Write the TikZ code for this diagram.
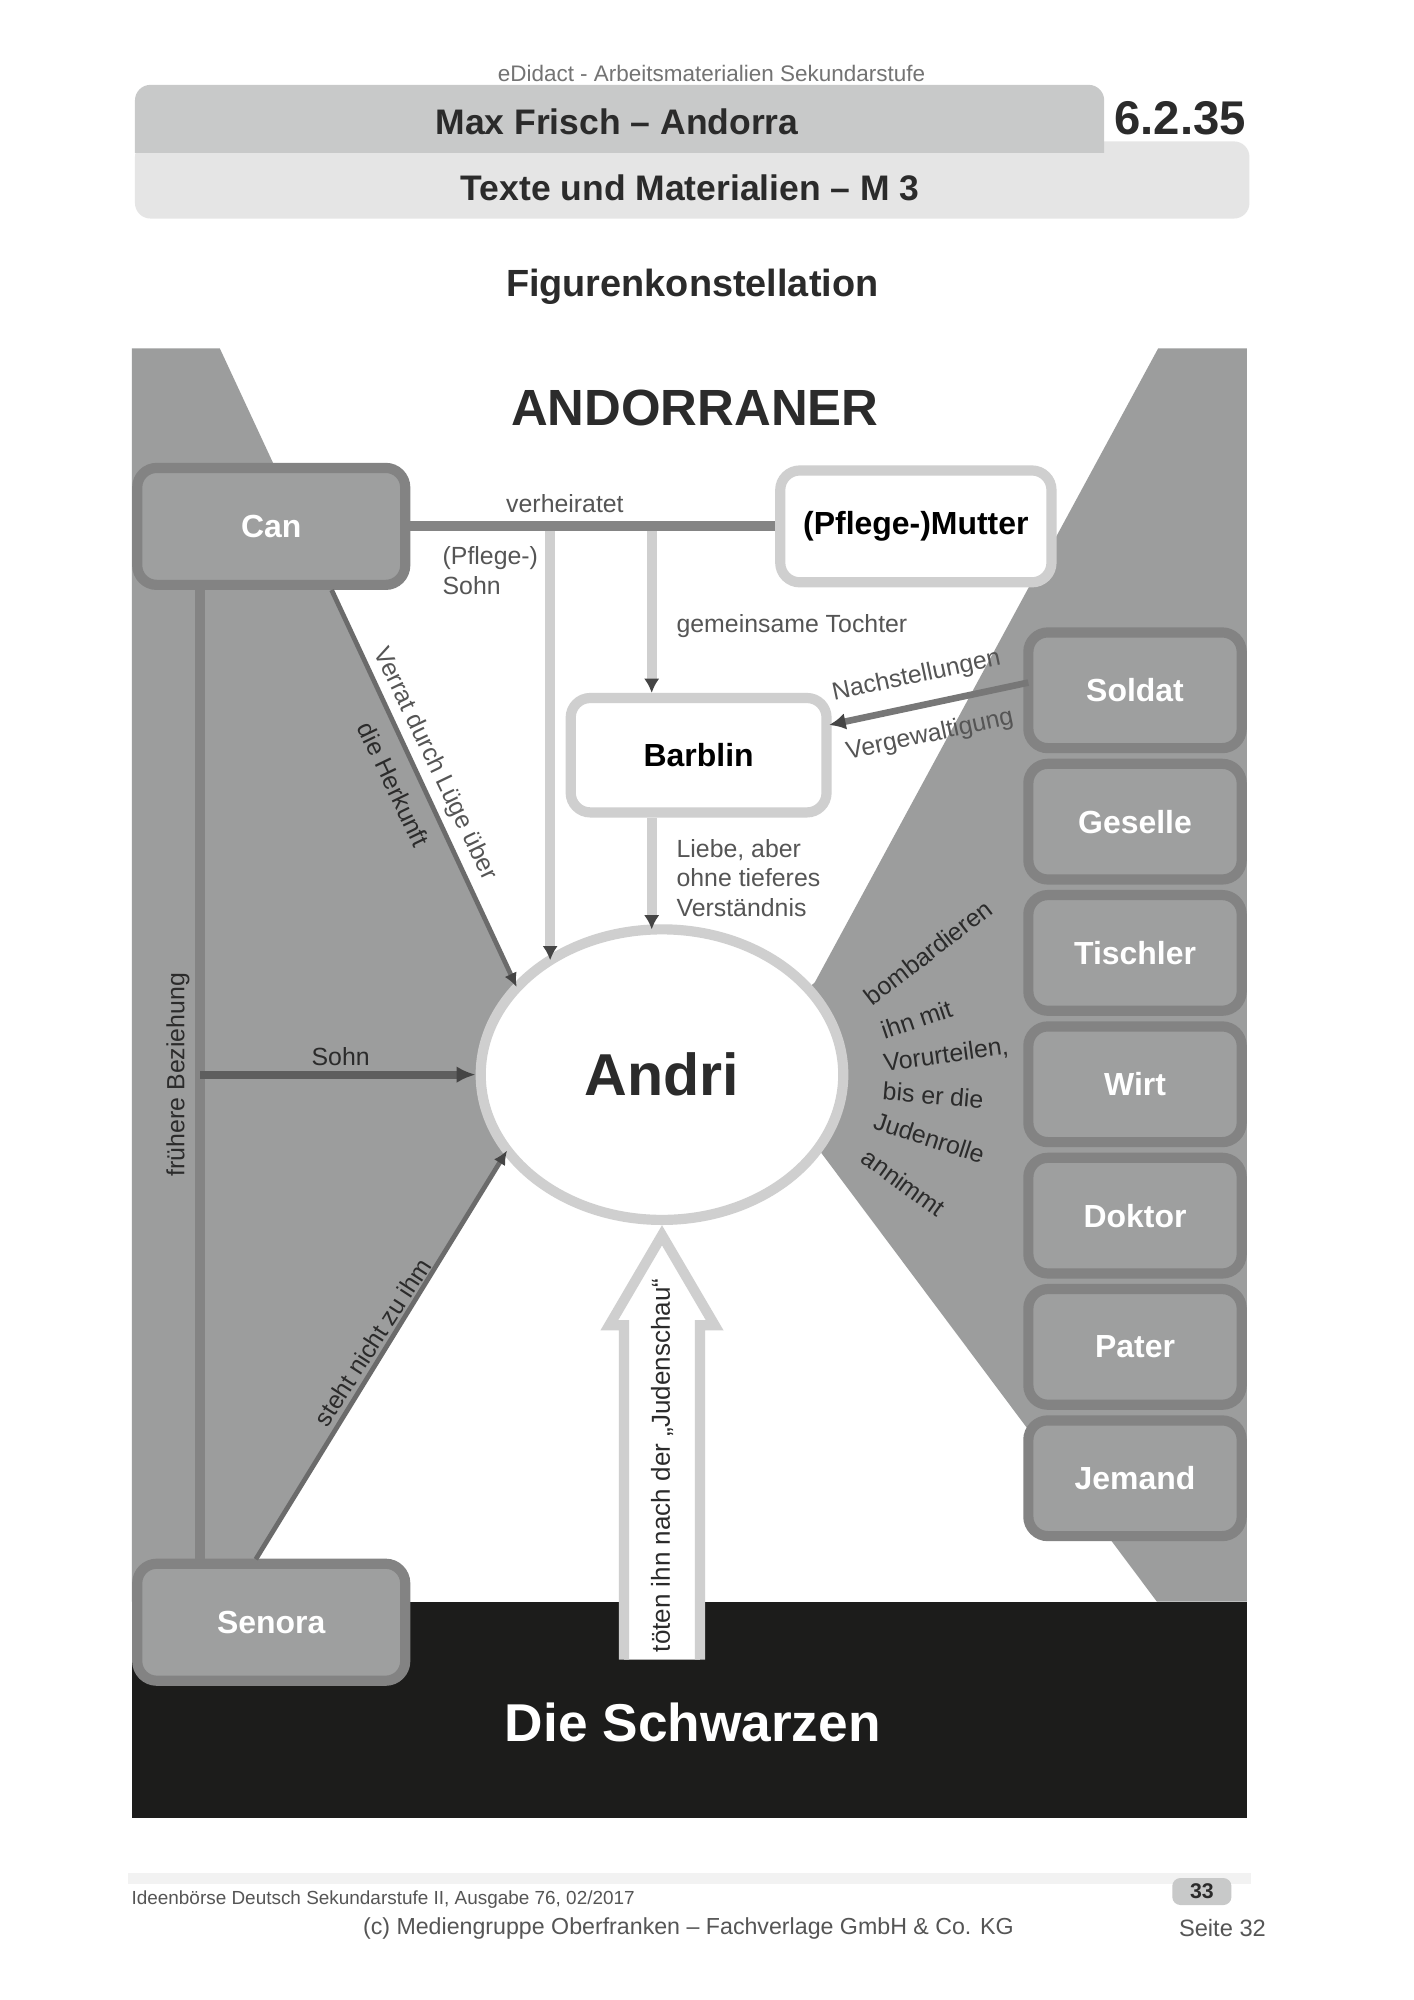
\documentclass[tikz,border=0pt]{standalone}
\usepackage{fontspec}
\setmainfont{Liberation Sans}
\setsansfont{Liberation Sans}
\usetikzlibrary{arrows.meta,shapes.geometric}
\definecolor{panelgray}{HTML}{9C9D9D}
\definecolor{boxfill}{HTML}{9E9F9F}
\definecolor{boxline}{HTML}{838383}
\definecolor{lightline}{HTML}{CFCFCF}
\definecolor{darkline}{HTML}{848484}
\definecolor{diagline}{HTML}{6B6B6B}
\definecolor{sohnline}{HTML}{5E5E5E}
\definecolor{barblack}{HTML}{1C1C1B}
\definecolor{labelgray}{HTML}{555555}
\definecolor{tipc}{HTML}{454545}
\definecolor{hdrdark}{HTML}{C8C9C9}
\definecolor{hdrlight}{HTML}{E5E5E5}
\definecolor{txtdark}{HTML}{2B2B2B}
\definecolor{footbar}{HTML}{F2F2F2}
\definecolor{footgray}{HTML}{555555}
\begin{document}
\begin{tikzpicture}[x=0.019091cm,y=-0.019091cm,
  gbox/.style={draw=boxline, fill=boxfill, line width=4.3pt, rounded corners=0.29cm,
    text=white, font=\fontsize{13.5}{16}\selectfont\bfseries, inner sep=0pt},
  canbox/.style={gbox, minimum width=3.98cm, minimum height=1.737cm},
  rbox/.style={gbox, minimum width=3.169cm, minimum height=1.718cm},
  wbox/.style={draw=lightline, fill=white, line width=4.3pt, rounded corners=0.29cm,
    text=black, font=\fontsize{13.5}{16}\selectfont\bfseries, inner sep=0pt},
  lbl/.style={font=\fontsize{10.5}{12.5}\selectfont, text=labelgray, inner sep=0pt},
  lbldark/.style={font=\fontsize{10.5}{12.5}\selectfont, text=txtdark, inner sep=0pt},
  lightarrow/.style={draw=lightline, line width=4.2pt, -{Latex[length=6pt,width=6.5pt,color=tipc]}},
  diagarrow/.style={draw=diagline, line width=2pt, -{Latex[length=6pt,width=5.5pt,color=tipc]}},
  sohnarrow/.style={draw=sohnline, line width=3.4pt, -{Latex[length=8pt,width=7pt,color=tipc]}},
  soldarrow/.style={draw=darkline!90!black, line width=2.8pt, -{Latex[length=7pt,width=7pt,color=tipc]}},
  marry/.style={draw=darkline, line width=4.2pt},
  vline/.style={draw=darkline, line width=4.6pt},
  fan/.style={lbldark}
]
\useasboundingbox (0,0) rectangle (1100,1555.9);
\fill[white] (0,0) rectangle (1100,1555.9);

% ---------- header ----------
\node[font=\fontsize{9.5}{11}\selectfont, text=black!55, inner sep=0pt] (hdrtop) at (553.5,57) {eDidact - Arbeitsmaterialien Sekundarstufe};
\fill[hdrlight, rounded corners=0.23cm] (105,110) rectangle (972,170);
\fill[hdrdark] (105,119) {[rounded corners=0.23cm] -- (105,66) -- (859,66)} -- (859,119) -- cycle;
\node[font=\fontsize{15}{18}\selectfont\bfseries, text=txtdark, inner sep=0pt] (hdrone) at (480,95) {Max Frisch – Andorra};
\node[font=\fontsize{15}{18}\selectfont\bfseries, text=txtdark, inner sep=0pt] (hdrtwo) at (537,146) {Texte und Materialien – M 3};
\node[font=\fontsize{20}{24}\selectfont\bfseries, text=txtdark, inner sep=0pt] (hdrnum) at (918,92) {6.2.35};
\node[font=\fontsize{16}{19}\selectfont\bfseries, text=txtdark, inner sep=0pt] (title) at (538.5,223) {Figurenkonstellation};

% ---------- panel backgrounds ----------
\fill[panelgray] (102.5,271) -- (171,271) -- (402,768) -- (470,836) -- (394.5,895) -- (199,1213) -- (199,1246) -- (102.5,1246) -- cycle;
\fill[panelgray] (901,271) -- (970,271) -- (970,1246) -- (900,1246) -- (639,897) -- (560,836) -- (634,764) -- cycle;
\fill[barblack] (102.5,1246) rectangle (970,1414);

\node[font=\fontsize{21.5}{26}\selectfont\bfseries, text=txtdark, inner sep=0pt] (andorraner) at (540.6,317) {ANDORRANER};
\node[font=\fontsize{22.5}{27}\selectfont\bfseries, text=white, inner sep=0pt] (schwarzen) at (539,1340) {Die Schwarzen};

% ---------- nodes ----------
\node[canbox] (can) at (211,409.5) {Can};
\node[canbox] (senora) at (211,1262) {Senora};
\node[wbox, minimum width=4.028cm, minimum height=1.661cm] (mutter) at (712.5,409.5) {(Pflege-)Mutter};
\node[wbox, minimum width=3.799cm, minimum height=1.699cm] (barblin) at (543.5,587.5) {Barblin};
\node[rbox] (soldat) at (883,537) {Soldat};
\node[rbox] (geselle) at (883,639.2) {Geselle};
\node[rbox] (tischler) at (883,741.3) {Tischler};
\node[rbox] (wirt) at (883,843.5) {Wirt};
\node[rbox] (doktor) at (883,945.7) {Doktor};
\node[rbox] (pater) at (883,1047.8) {Pater};
\node[rbox] (jemand) at (883,1150) {Jemand};
\node[ellipse, draw=lightline, fill=white, line width=4.3pt, inner sep=0pt,
  minimum width=5.384cm, minimum height=4.315cm,
  font=\fontsize{25}{30}\selectfont\bfseries, text=txtdark] (andri) at (515,836) {Andri};

% ---------- coordinates ----------
\coordinate (j1) at (428,409.5);
\coordinate (j2) at (507,409.5);
\coordinate (jL) at (155.6,836);
\coordinate (aS) at (428,747);
\coordinate (aB) at (507,723);
\coordinate (canD) at (258,459);
\coordinate (aC) at (402,768);
\coordinate (senD) at (199,1213);
\coordinate (aSe) at (394.5,895);
\coordinate (solW) at (800,531);
\coordinate (barE) at (645,564);

% ---------- connectors ----------
\draw[lightarrow] (j1) -- (aS);
\draw[lightarrow] (j2) -- (barblin.north -| j2);
\draw[lightarrow] (barblin.south -| j2) -- (aB);
\draw[marry] (can.east) -- (mutter.west);
\draw[vline] (can.south -| jL) -- (senora.north -| jL);
\draw[sohnarrow] (jL) -- (andri.west);
\draw[diagarrow] (canD) -- (aC);
\draw[diagarrow] (senD) -- (aSe);
\draw[soldarrow] (solW) -- (barE);

% big arrow from the Schwarzen to Andri
\draw[fill=white, draw=lightline, line width=4.3pt] (485.5,1291) -- (485.5,1031) -- (474,1031) -- (515,961) -- (556,1031) -- (544.5,1031) -- (544.5,1291);
\node[rotate=90, font=\fontsize{11}{13}\selectfont, text=txtdark, inner sep=0pt] (judenschau) at (515,1140) {töten ihn nach der „Judenschau“};

% ---------- labels ----------
\node[lbl] (lverh) at (439.5,392) {verheiratet};
\node[lbl, anchor=west, align=left, font=\fontsize{10.5}{12.5}\selectfont] (lpsohn) at (344,444) {(Pflege-)\\Sohn};
\node[lbl, anchor=west] (ltochter) at (526,487) {gemeinsame Tochter};
\node[lbl, anchor=west, align=left, font=\fontsize{10.5}{12.5}\selectfont] (lliebe) at (526,683) {Liebe, aber\\ohne tieferes\\Verständnis};
\node[lbl, rotate=12] (lnach) at (713,526) {Nachstellungen};
\node[lbl, rotate=12] (lverg) at (723.5,572) {Vergewaltigung};
\node[lbldark, rotate=-64.3, align=center, font=\fontsize{10.5}{20.3}\selectfont] (lverrat) at (323.2,602) {\textcolor{labelgray}{Verrat durch Lüge über}\\die Herkunft};
\node[lbldark, rotate=57.1] (lsteht) at (290,1044) {steht nicht zu ihm};
\node[lbldark, rotate=90] (lfrueh) at (138.5,836) {frühere Beziehung};
\node[lbldark] (lsohn) at (265,822) {Sohn};
\node[fan, rotate=37.7] (f1) at (722,741) {bombardieren};
\node[fan, rotate=18.7] (f2) at (713,793) {ihn mit};
\node[fan, rotate=7.8] (f3) at (736,821) {Vorurteilen,};
\node[fan, rotate=-4.8] (f4) at (726,852) {bis er die};
\node[fan, rotate=-18] (f5) at (723,885) {Judenrolle};
\node[fan, rotate=-36] (f6) at (703,920) {annimmt};

% ---------- footer ----------
\fill[footbar] (99.5,1457) rectangle (973,1466);
\node[anchor=west, font=\fontsize{8}{10}\selectfont, text=footgray, inner sep=0pt] (foot1) at (102,1478) {Ideenbörse Deutsch Sekundarstufe II, Ausgabe 76, 02/2017};
\fill[hdrdark, rounded corners=0.12cm] (912,1461) rectangle (958,1482);
\node[font=\fontsize{9}{11}\selectfont\bfseries, text=txtdark, inner sep=0pt] (pgnum) at (935,1471.5) {33};
\node[font=\fontsize{9.8}{12}\selectfont, text=footgray, inner sep=0pt] (foot2) at (535.5,1500) {(c) Mediengruppe Oberfranken – Fachverlage GmbH \& Co. KG};
\node[font=\fontsize{10}{12}\selectfont, text=footgray, inner sep=0pt] (foot3) at (951,1500) {Seite 32};
\end{tikzpicture}
\end{document}
